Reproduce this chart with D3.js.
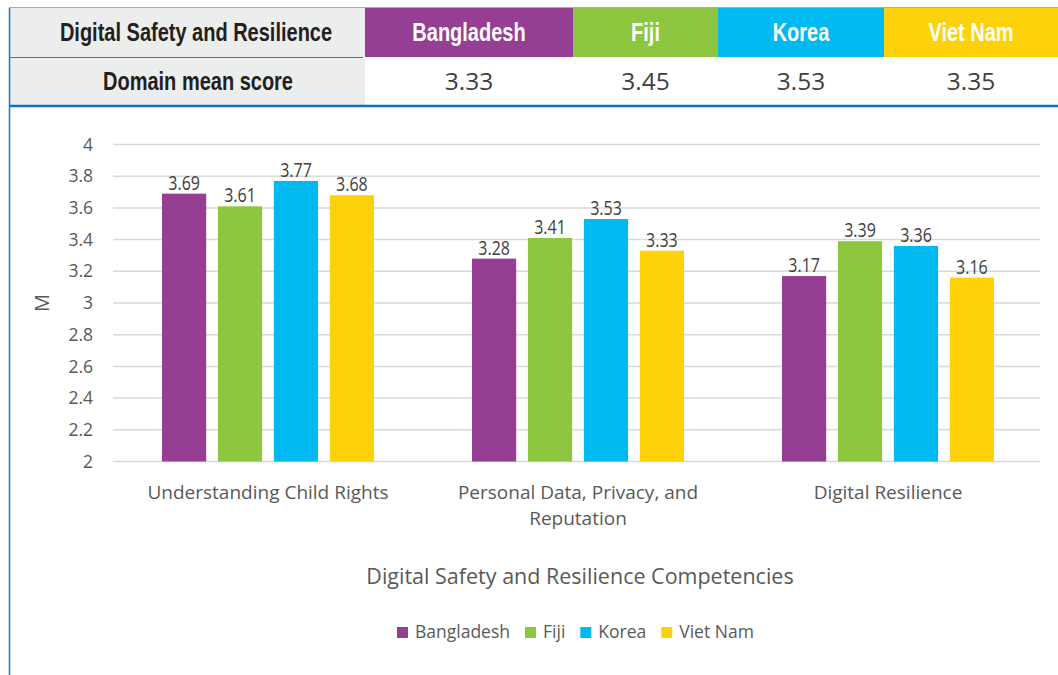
<!DOCTYPE html>
<html>
<head>
<meta charset="utf-8">
<script src="https://cdn.jsdelivr.net/npm/d3@7"></script>
<style>
  body { margin: 0; background: #fff; }
  svg { display: block; }
</style>
</head>
<body>
<div id="chart"></div>
<script>
// data
const countries = ['Bangladesh', 'Fiji', 'Korea', 'Viet Nam'];
const colors = ['#963e94', '#8dc63f', '#00b9f0', '#fdd20a'];
const domainMeans = [3.33, 3.45, 3.53, 3.35];
const categories = ['Understanding Child Rights', 'Personal Data, Privacy, and Reputation', 'Digital Resilience'];
const categoryLines = [['Understanding Child Rights'], ['Personal Data, Privacy, and', 'Reputation'], ['Digital Resilience']];
const bangladesh = [3.69, 3.28, 3.17];
const fiji = [3.61, 3.41, 3.39];
const korea = [3.77, 3.53, 3.36];
const vietNam = [3.68, 3.33, 3.16];
const yTicks = [2, 2.2, 2.4, 2.6, 2.8, 3, 3.2, 3.4, 3.6, 3.8, 4];

const series = [bangladesh, fiji, korea, vietNam];

const W = 1058, H = 675;
const boldFont = '"Liberation Sans", Arial, sans-serif';
const regular = '"Open Sans", "Noto Sans", sans-serif';

const svg = d3.select('#chart').append('svg')
    .attr('width', W)
    .attr('height', H);

// condensed look: squeeze text horizontally around its centre
function squeezed(parent, cx, cy, sx) {
    return parent.append('text')
        .attr('transform', 'translate(' + cx + ',' + cy + ') scale(' + sx + ',1)')
        .attr('text-anchor', 'middle');
}

// ---- header table ----
const tableLeft = 9, labelRight = 365;
const colEdges = [365, 573, 718, 884, 1058];
const row1 = [8, 57], row2 = [57, 105];

svg.append('line')
    .attr('x1', tableLeft).attr('x2', W)
    .attr('y1', 7.5).attr('y2', 7.5)
    .attr('stroke', '#8fb3c9').attr('stroke-width', 1);

svg.append('rect')
    .attr('x', tableLeft).attr('y', row1[0])
    .attr('width', labelRight - tableLeft).attr('height', row2[1] - row1[0])
    .attr('fill', '#eceeed');

svg.append('line')
    .attr('x1', tableLeft).attr('x2', labelRight - 2)
    .attr('y1', 57.5).attr('y2', 57.5)
    .attr('stroke', '#2a7fc0').attr('stroke-width', 1);

countries.forEach((c, i) => {
    const x0 = colEdges[i], x1 = colEdges[i + 1];
    svg.append('rect')
        .attr('x', x0).attr('y', row1[0])
        .attr('width', x1 - x0).attr('height', row1[1] - row1[0])
        .attr('fill', colors[i]);
    squeezed(svg, (x0 + x1) / 2, 41, 0.8)
        .attr('fill', '#fff')
        .style('font-family', boldFont)
        .style('font-weight', 'bold')
        .style('font-size', '25px')
        .text(c);
    svg.append('text')
        .attr('x', (x0 + x1) / 2).attr('y', 90)
        .attr('text-anchor', 'middle')
        .attr('fill', '#404040')
        .style('font-family', regular)
        .style('font-size', '24.5px')
        .text(domainMeans[i].toFixed(2));
});

squeezed(svg, 196, 41, 0.8)
    .attr('fill', '#231f20')
    .style('font-family', boldFont)
    .style('font-weight', 'bold')
    .style('font-size', '25px')
    .text('Digital Safety and Resilience');

squeezed(svg, 198, 90, 0.8)
    .attr('fill', '#231f20')
    .style('font-family', boldFont)
    .style('font-weight', 'bold')
    .style('font-size', '25px')
    .text('Domain mean score');

svg.append('line')
    .attr('x1', tableLeft).attr('x2', W)
    .attr('y1', 106).attr('y2', 106)
    .attr('stroke', '#0a75bc').attr('stroke-width', 2.5);

svg.append('line')
    .attr('x1', 9.5).attr('x2', 9.5)
    .attr('y1', 8).attr('y2', H)
    .attr('stroke', '#1f78c1').attr('stroke-width', 1.5);

// ---- chart ----
const plot = { left: 113, right: 1043, top: 144.5, bottom: 461.5 };

const y = d3.scaleLinear()
    .domain([2, 4])
    .range([plot.bottom, plot.top]);

const x0 = d3.scaleBand()
    .domain(categories)
    .range([plot.left, plot.right]);

const x1 = d3.scaleBand()
    .domain(countries)
    .range([49, 261])
    .paddingInner(0.21);

// gridlines
svg.append('g')
    .selectAll('line')
    .data(yTicks)
    .enter()
    .append('line')
    .attr('x1', plot.left).attr('x2', plot.right - 3)
    .attr('y1', d => y(d)).attr('y2', d => y(d))
    .attr('stroke', '#d9d9d9').attr('stroke-width', 1.5);

// y axis labels
const yAxis = d3.axisLeft(y)
    .tickValues(yTicks)
    .tickSize(0)
    .tickPadding(0)
    .tickFormat(d3.format('~g'));

svg.append('g')
    .attr('transform', 'translate(93,0)')
    .call(yAxis)
    .call(g => g.select('.domain').remove())
    .selectAll('text')
    .attr('fill', '#595959')
    .style('font-family', regular)
    .style('font-size', '17.5px');

svg.append('text')
    .attr('transform', 'translate(49,303) rotate(-90)')
    .attr('text-anchor', 'middle')
    .attr('fill', '#595959')
    .style('font-family', regular)
    .style('font-size', '20px')
    .text('M');

// bars
const groups = svg.append('g')
    .selectAll('g')
    .data(categories)
    .enter()
    .append('g')
    .attr('transform', d => 'translate(' + x0(d) + ',0)');

groups.selectAll('rect')
    .data((d, ci) => countries.map((c, si) => ({ country: c, value: series[si][ci], color: colors[si] })))
    .enter()
    .append('rect')
    .attr('x', d => x1(d.country))
    .attr('y', d => y(d.value))
    .attr('width', x1.bandwidth())
    .attr('height', d => y(2) - y(d.value))
    .attr('fill', d => d.color);

groups.each(function (d, ci) {
    const g = d3.select(this);
    countries.forEach((c, si) => {
        const v = series[si][ci];
        squeezed(g, x1(c) + x1.bandwidth() / 2, y(v) - 4, 0.8)
            .attr('fill', '#404040')
            .style('font-family', regular)
            .style('font-size', '20px')
            .text(v.toFixed(2));
    });
});

// category labels
svg.append('g')
    .selectAll('text')
    .data(categories)
    .enter()
    .append('text')
    .attr('x', d => x0(d) + x0.bandwidth() / 2)
    .attr('y', 499)
    .attr('text-anchor', 'middle')
    .attr('fill', '#595959')
    .style('font-family', regular)
    .style('font-size', '19px')
    .each(function (d, i) {
        d3.select(this).selectAll('tspan')
            .data(categoryLines[i])
            .enter()
            .append('tspan')
            .attr('x', x0(d) + x0.bandwidth() / 2)
            .attr('dy', (l, j) => j === 0 ? 0 : 26)
            .text(l => l);
    });

svg.append('text')
    .attr('x', 580).attr('y', 584)
    .attr('text-anchor', 'middle')
    .attr('fill', '#595959')
    .style('font-family', regular)
    .style('font-size', '21.5px')
    .text('Digital Safety and Resilience Competencies');

// legend
const legend = svg.append('g').attr('transform', 'translate(397,0)');
let lx = 0;
countries.forEach((c, i) => {
    const item = legend.append('g').attr('transform', 'translate(' + lx + ',0)');
    item.append('rect')
        .attr('x', 0).attr('y', 627)
        .attr('width', 11).attr('height', 11)
        .attr('fill', colors[i]);
    const t = item.append('text')
        .attr('x', 18).attr('y', 638)
        .attr('fill', '#595959')
        .style('font-family', regular)
        .style('font-size', '17.5px')
        .text(c);
    lx += 18 + t.node().getComputedTextLength() + 15;
});
</script>
</body>
</html>
